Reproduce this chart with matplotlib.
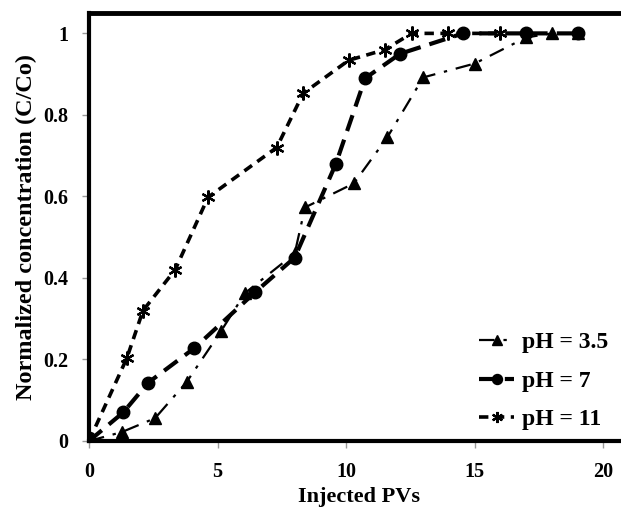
import matplotlib.pyplot as plt
from matplotlib.ticker import FuncFormatter

# Breakthrough data: injected pore volumes vs normalized concentration
pv_35 = [0, 1.28, 2.57, 3.8, 5.14, 6.07, 8.0, 8.4, 10.3, 11.6, 13.0, 15.0, 17.0, 18.0, 19.0]
c_35 = [0, 0.022, 0.056, 0.145, 0.27, 0.363, 0.46, 0.573, 0.632, 0.745, 0.892, 0.926, 0.99, 1.0, 1.0]

pv_7 = [0, 1.33, 2.3, 4.1, 6.46, 8.0, 9.6, 10.74, 12.1, 14.55, 17.0, 19.0]
c_7 = [0, 0.07, 0.143, 0.228, 0.365, 0.45, 0.68, 0.89, 0.95, 1.0, 1.0, 1.0]

pv_11 = [0, 1.47, 2.1, 3.35, 4.63, 7.3, 8.33, 10.1, 11.5, 12.55, 13.97, 16.0]
c_11 = [0, 0.203, 0.32, 0.42, 0.598, 0.72, 0.853, 0.934, 0.96, 1.0, 1.0, 1.0]

labels = ['pH = 3.5', 'pH = 7', 'pH = 11']

plt.rcParams['font.family'] = ['Liberation Serif', 'DejaVu Serif']
plt.rcParams['font.weight'] = 'bold'

fig = plt.figure(figsize=(6.21, 5.14), dpi=100)
ax = fig.add_axes([89 / 621, 73 / 514, 540 / 621, 428 / 514])

ax.plot(pv_35, c_35, color='black', lw=1.6, dashes=(7, 4, 1.5, 4),
        marker='^', ms=9, label=labels[0])
ax.plot(pv_7, c_7, color='black', lw=3, dashes=(4, 2.2),
        marker='o', ms=9, label=labels[1])
ax.plot(pv_11, c_11, color='black', lw=2.6, dashes=(2.6, 1.8),
        marker=(6, 2, 0), ms=10, mew=1.6, label=labels[2])

ax.set_xlim(0, 21)
ax.set_ylim(0, 1.05)
ax.set_xticks([0, 5, 10, 15, 20])
ax.set_yticks([0, 0.2, 0.4, 0.6, 0.8, 1.0])
ax.yaxis.set_major_formatter(FuncFormatter(lambda v, p: f'{v:g}'))
ax.tick_params(axis='both', direction='out', length=5, width=1,
               color='#999999', labelsize=14.5, pad=10)
for lab in ax.get_xticklabels() + ax.get_yticklabels():
    lab.set_fontweight('bold')

for side in ['left', 'bottom']:
    ax.spines[side].set_linewidth(3)
ax.spines['top'].set_linewidth(3.5)
ax.spines['right'].set_visible(False)

ax.set_xlabel('Injected PVs', fontsize=16, fontweight='bold', labelpad=4)
ax.set_ylabel('Normalized concentration (C/Co)', fontsize=17.5,
              fontweight='bold', labelpad=4)

leg = ax.legend(loc='lower right', bbox_to_anchor=(1.0, -0.025), frameon=False,
                prop={'size': 17, 'weight': 'bold'}, handlelength=1.5,
                handletextpad=0.3, labelspacing=0.72, markerscale=0.8)

fig.savefig('out.png', dpi=100)
